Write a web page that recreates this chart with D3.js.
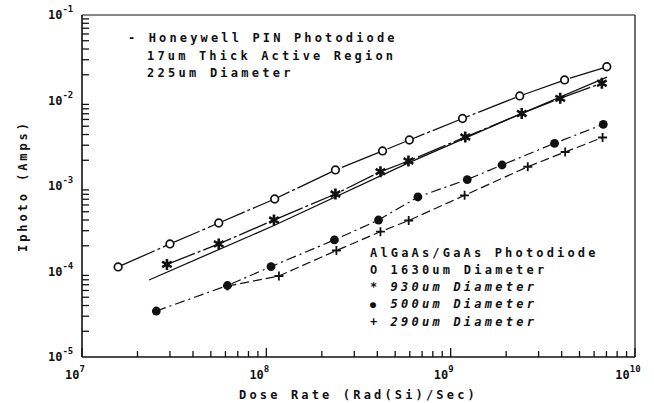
<!DOCTYPE html>
<html><head><meta charset="utf-8">
<script src="https://cdn.jsdelivr.net/npm/d3@7"></script>
<style>
html,body{margin:0;padding:0;background:#fff;}
svg{display:block;}
text{font-family:"DejaVu Sans Mono",monospace;fill:#111;font-weight:bold;}
</style></head>
<body>
<svg id="chart" width="654" height="403"></svg>
<script>
// ---- data ----
const xTickExps = [7, 8, 9, 10];
const yTickExps = [-5, -4, -3, -2, -1];

// Honeywell PIN photodiode (plain line)
const doseHoney = [2.31e7, 1.10e8, 5.90e8, 2.42e9, 7.05e9];
const iHoney    = [7.96e-5, 3.45e-4, 1.86e-3, 7.05e-3, 1.88e-2];
// AlGaAs/GaAs 1630um (open circles)
const doseCircle = [1.57e7, 3.0e7, 5.52e7, 1.11e8, 2.37e8, 4.27e8, 5.97e8, 1.16e9, 2.37e9, 4.15e9, 7.03e9];
const iCircle    = [1.13e-4, 2.10e-4, 3.69e-4, 7.05e-4, 1.54e-3, 2.57e-3, 3.45e-3, 6.16e-3, 1.13e-2, 1.74e-2, 2.48e-2];
// 930um (stars)
const doseStar = [2.89e7, 5.52e7, 1.10e8, 2.37e8, 4.16e8, 5.90e8, 1.20e9, 2.43e9, 3.93e9, 6.61e9];
const iStar    = [1.21e-4, 2.10e-4, 4.00e-4, 8.06e-4, 1.47e-3, 1.96e-3, 3.74e-3, 7.05e-3, 1.06e-2, 1.59e-2];
// 500um (filled circles)
const doseDot = [2.53e7, 6.15e7, 1.06e8, 2.34e8, 4.06e8, 6.64e8, 1.23e9, 1.90e9, 3.66e9, 6.73e9];
const iDot    = [3.45e-5, 6.86e-5, 1.14e-4, 2.34e-4, 4.00e-4, 7.44e-4, 1.19e-3, 1.76e-3, 3.16e-3, 5.27e-3];
// 290um (plus)
const dosePlus = [6.15e7, 1.17e8, 2.40e8, 4.16e8, 5.92e8, 1.19e9, 2.62e9, 4.18e9, 6.67e9];
const iPlus    = [6.76e-5, 8.86e-5, 1.76e-4, 2.92e-4, 3.95e-4, 7.78e-4, 1.68e-3, 2.50e-3, 3.69e-3];

const honeyText = ["- Honeywell PIN Photodiode", "17um Thick Active Region", "225um Diameter"];
const legendTitle = "AlGaAs/GaAs Photodiode";
const legendRows = [["O", "1630um Diameter"], ["*", "930um Diameter"], ["\u25CF", "500um Diameter"], ["+", "290um Diameter"]];
const xLabel = "Dose Rate (Rad(Si)/Sec)";
const yLabel = "Iphoto (Amps)";

// ---- layout ----
const L = 82, R = 635, T = 15, B = 357;
const CH = 10.25; // char advance of plotter lettering
const ink = "#111";

const svg = d3.select("#chart");
const x = d3.scaleLog().domain([1e7, 1e10]).range([L, R]);
const y = d3.scaleLog().domain([1e-5, 1e-1]).range([B, T]);

// frame
svg.append("line").attr("x1", L).attr("x2", L).attr("y1", T).attr("y2", B).attr("stroke", ink).attr("stroke-width", 1.6);
svg.append("line").attr("x1", L).attr("x2", R).attr("y1", B).attr("y2", B).attr("stroke", ink).attr("stroke-width", 1.6);
svg.append("line").attr("x1", R).attr("x2", R).attr("y1", T).attr("y2", B).attr("stroke", ink).attr("stroke-width", 1.2);
svg.append("line").attr("x1", L).attr("x2", R).attr("y1", T).attr("y2", T).attr("stroke", ink).attr("stroke-width", 1.2);

// ticks
const xMinor = [], yMinor = [];
for (let e = 7; e < 10; e++) for (let m = 2; m <= 9; m++) xMinor.push(m * Math.pow(10, e));
for (let e = -5; e < -1; e++) for (let m = 2; m <= 9; m++) yMinor.push(m * Math.pow(10, e));

svg.selectAll(".xt").data(xMinor).enter().append("line")
  .attr("x1", d => x(d)).attr("x2", d => x(d)).attr("y1", B).attr("y2", B - 6)
  .attr("stroke", ink).attr("stroke-width", 1.3);
svg.selectAll(".xT").data(xTickExps).enter().append("line")
  .attr("x1", d => x(Math.pow(10, d))).attr("x2", d => x(Math.pow(10, d))).attr("y1", B).attr("y2", B - 9)
  .attr("stroke", ink).attr("stroke-width", 1.3);
svg.selectAll(".yt").data(yMinor).enter().append("line")
  .attr("x1", L).attr("x2", L + 7).attr("y1", d => y(d)).attr("y2", d => y(d))
  .attr("stroke", ink).attr("stroke-width", 1.3);

// tick labels
xTickExps.forEach(e => {
  const t = svg.append("text").attr("x", x(Math.pow(10, e)) - 7).attr("y", 379).attr("font-size", 12).attr("text-anchor", "middle");
  t.append("tspan").text("10");
  t.append("tspan").attr("dy", -7).attr("font-size", 9).text(e);
});
yTickExps.forEach(e => {
  const t = svg.append("text").attr("x", 48).attr("y", y(Math.pow(10, e)) + 4).attr("font-size", 12);
  t.append("tspan").text("10");
  t.append("tspan").attr("dy", -7).attr("font-size", 9).text(e);
});

// axis titles
svg.append("text").attr("x", 239).attr("y", 399).attr("font-size", 12)
  .attr("textLength", xLabel.length * CH).attr("lengthAdjust", "spacing").text(xLabel);
svg.append("text").attr("transform", "translate(27,252) rotate(-90)").attr("font-size", 12)
  .attr("textLength", 129).attr("lengthAdjust", "spacing").text(yLabel);

// lines
function series(dx, dy) { return dx.map((d, i) => [d, dy[i]]); }
const line = d3.line().x(d => x(d[0])).y(d => y(d[1]));
const sets = [
  {data: series(doseHoney, iHoney), dash: null, w: 1.3},
  {data: series(doseCircle, iCircle), dash: "40,3,3,3", w: 1.3},
  {data: series(doseStar, iStar), dash: "30,3,3,3", w: 1.3},
  {data: series(doseDot, iDot), dash: "10,4,2,4", w: 1.2},
  {data: series(dosePlus, iPlus), dash: "9,4", w: 1.2}
];
sets.forEach(s => {
  svg.append("path").attr("d", line(s.data)).attr("fill", "none").attr("stroke", ink)
    .attr("stroke-width", s.w).attr("stroke-dasharray", s.dash);
});

// markers
svg.selectAll(".c").data(series(doseCircle, iCircle)).enter().append("circle")
  .attr("cx", d => x(d[0])).attr("cy", d => y(d[1])).attr("r", 3.8)
  .attr("fill", "#fff").attr("stroke", ink).attr("stroke-width", 1.7);
svg.selectAll(".d").data(series(doseDot, iDot)).enter().append("circle")
  .attr("cx", d => x(d[0])).attr("cy", d => y(d[1])).attr("r", 4.4).attr("fill", ink);
svg.selectAll(".s").data(series(doseStar, iStar)).enter().append("path")
  .attr("transform", d => `translate(${x(d[0])},${y(d[1])})`)
  .attr("d", "M0,-5.5L0,5.5M-4.8,-2.8L4.8,2.8M-4.8,2.8L4.8,-2.8")
  .attr("stroke", ink).attr("stroke-width", 2.6);
svg.selectAll(".p").data(series(dosePlus, iPlus)).enter().append("path")
  .attr("transform", d => `translate(${x(d[0])},${y(d[1])})`)
  .attr("d", "M0,-4.5L0,4.5M-4.5,0L4.5,0")
  .attr("stroke", ink).attr("stroke-width", 1.8);

// Honeywell annotation
honeyText.forEach((t, i) => {
  const xs = i === 0 ? 128 : 147;
  svg.append("text").attr("x", xs).attr("y", 42 + i * 17.5).attr("font-size", 12)
    .attr("textLength", t.length * CH).attr("lengthAdjust", "spacing").text(t);
});

// AlGaAs legend
svg.append("text").attr("x", 370).attr("y", 257).attr("font-size", 12)
  .attr("textLength", legendTitle.length * CH).attr("lengthAdjust", "spacing").text(legendTitle);
legendRows.forEach((r, i) => {
  const yy = 274 + i * 17.2;
  svg.append("text").attr("x", 370).attr("y", yy).attr("font-size", r[0] === "\u25CF" ? 10 : 12).text(r[0]);
  svg.append("text").attr("x", 370 + 2 * CH).attr("y", yy).attr("font-size", 12)
    .attr("font-style", i >= 1 ? "italic" : "normal")
    .attr("textLength", r[1].length * CH).attr("lengthAdjust", "spacing").text(r[1]);
});
</script>
</body></html>
